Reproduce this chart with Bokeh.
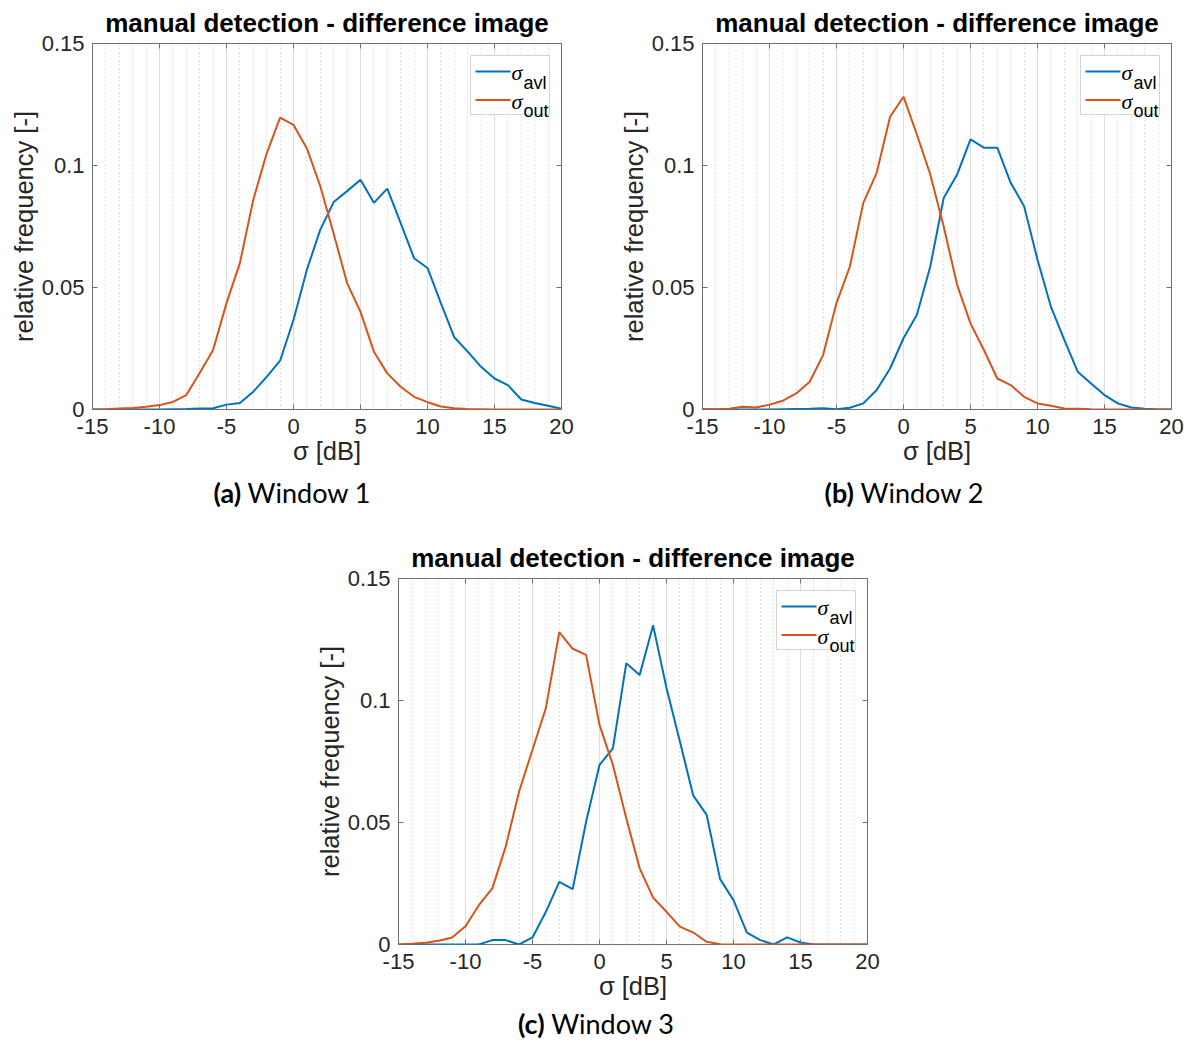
from bokeh.plotting import figure
from bokeh.models import Range1d, FixedTicker, LinearAxis, Label, BoxAnnotation, Div, Spacer
from bokeh.layouts import row, column
from bokeh.embed import file_html
from bokeh.resources import INLINE

# ---------------- data ----------------
x_db = list(range(-15, 21))

avl_w1 = [0, 0, 0, 0, 0, 0, 0.0001, 0.0002, 0.0004, 0.0005, 0.0020, 0.0027, 0.0073, 0.0134, 0.0200,
          0.0367, 0.0573, 0.0737, 0.0850, 0.0895, 0.0942, 0.0847, 0.0905, 0.0764, 0.0620, 0.0580,
          0.0436, 0.0296, 0.0237, 0.0175, 0.0127, 0.0100, 0.0041, 0.0027, 0.0015, 0.0003]
out_w1 = [0, 0.0001, 0.0004, 0.0006, 0.0011, 0.0018, 0.0031, 0.0059, 0.0150, 0.0244, 0.0436, 0.0600,
          0.0860, 0.1050, 0.1196, 0.1166, 0.1070, 0.0915, 0.0720, 0.0518, 0.0400, 0.0237, 0.0148,
          0.0093, 0.0052, 0.0030, 0.0012, 0.0005, 0.0002, 0.0001, 0, 0, 0, 0, 0, 0]

avl_w2 = [0, 0, 0, 0, 0, 0, 0.0001, 0.0002, 0.0003, 0.0005, 0.0001, 0.0007, 0.0025, 0.0080, 0.0168,
          0.0292, 0.0388, 0.0586, 0.0867, 0.0963, 0.1107, 0.1073, 0.1073, 0.0929, 0.0833, 0.0614,
          0.0422, 0.0285, 0.0155, 0.0107, 0.0059, 0.0025, 0.0008, 0.0003, 0, 0]
out_w2 = [0.0002, 0.0001, 0.0003, 0.0011, 0.0008, 0.0020, 0.0036, 0.0066, 0.0114, 0.0223, 0.0436,
          0.0586, 0.0847, 0.0970, 0.1200, 0.1282, 0.1127, 0.0963, 0.0750, 0.0511, 0.0353, 0.0244,
          0.0127, 0.0100, 0.0052, 0.0025, 0.0015, 0.0004, 0.0003, 0.0001, 0, 0, 0, 0, 0, 0]

avl_w3 = [0, 0, 0, 0, 0, 0, 0, 0.0018, 0.0018, 0, 0.0029, 0.0134, 0.0257, 0.0227, 0.0503,
          0.0736, 0.0804, 0.1153, 0.1105, 0.1308, 0.1051, 0.0832, 0.0610, 0.0531, 0.0268, 0.0182,
          0.0049, 0.0018, 0, 0.0029, 0.0008, 0, 0, 0, 0, 0]
out_w3 = [0, 0.0003, 0.0007, 0.0015, 0.0029, 0.0075, 0.0161, 0.0230, 0.0401, 0.0627, 0.0798, 0.0969,
          0.1280, 0.1212, 0.1187, 0.0900, 0.0736, 0.0517, 0.0312, 0.0192, 0.0134, 0.0073, 0.0049,
          0.0011, 0.0001, 0, 0, 0, 0, 0, 0, 0, 0, 0, 0, 0]

x_ticks = [-15, -10, -5, 0, 5, 10, 15, 20]
x_tick_labels = ["-15", "-10", "-5", "0", "5", "10", "15", "20"]
y_ticks = [0, 0.05, 0.1, 0.15]
y_tick_labels = ["0", "0.05", "0.1", "0.15"]
x_minor = list(range(-15, 21))

title_text = "manual detection - difference image"
y_label = "relative frequency [-]"
x_label = "σ [dB]"
series_subs = ["avl", "out"]
caption_tags = ["(a)", "(b)", "(c)"]
caption_texts = ["Window 1", "Window 2", "Window 3"]

# ---------------- style ----------------
BLUE = "#0072BD"
ORANGE = "#D95319"
TXT = "#262626"
FRAME = "#707070"
FONT = "Liberation Sans"
FW, FH = 469, 366


def style_axis(ax, ticks, labels, minor=None, show_labels=True):
    ax.ticker = FixedTicker(ticks=ticks, minor_ticks=minor or [])
    ax.major_tick_in = 5
    ax.major_tick_out = 0
    ax.minor_tick_in = 0
    ax.minor_tick_out = 0
    ax.axis_line_color = None
    ax.major_tick_line_color = FRAME
    ax.major_label_text_font = FONT
    if show_labels:
        ax.major_label_overrides = {t: l for t, l in zip(ticks, labels)}
        ax.major_label_text_color = TXT
        ax.major_label_text_font_size = "22px"
    else:
        # mirror axis: ticks only, labels not drawn
        ax.major_label_text_color = None
        ax.major_label_text_font_size = "1px"
        ax.major_label_standoff = 0


def add_legend(p):
    right = FW - 12
    left = right - 79
    top = FH - 12
    bottom = top - 59
    p.add_layout(BoxAnnotation(left=left, right=right, top=top, bottom=bottom,
                               left_units="screen", right_units="screen",
                               top_units="screen", bottom_units="screen",
                               fill_color="white", fill_alpha=1.0,
                               line_color=FRAME, line_width=1))
    for i, (sub, col) in enumerate(zip(series_subs, [BLUE, ORANGE])):
        yl = FH - (28 + 28.5 * i)
        p.add_layout(BoxAnnotation(left=left + 5, right=left + 40, top=yl + 1, bottom=yl - 1,
                                   left_units="screen", right_units="screen",
                                   top_units="screen", bottom_units="screen",
                                   fill_color=col, fill_alpha=1.0, line_color=None))
        p.add_layout(Label(x=left + 41, y=yl - 1, x_units="screen", y_units="screen",
                           text="σ", text_font="Liberation Serif", text_font_style="italic",
                           text_font_size="22px", text_color="#000000",
                           text_align="left", text_baseline="alphabetic"))
        p.add_layout(Label(x=left + 53, y=yl - 11, x_units="screen", y_units="screen",
                           text=sub, text_font=FONT, text_font_size="18px", text_color="#000000",
                           text_align="left", text_baseline="alphabetic"))


def make_fig(avl, out, left_b, right_b, top_b):
    p = figure(frame_width=FW, frame_height=FH,
               x_range=Range1d(-15, 20), y_range=Range1d(0, 0.15),
               output_backend="svg", toolbar_location=None,
               min_border_left=left_b, min_border_right=right_b,
               min_border_top=top_b, min_border_bottom=64,
               title=title_text)
    p.title.text_font = FONT
    p.title.text_font_size = "26px"
    p.title.text_font_style = "bold"
    p.title.text_color = "#000000"
    p.title.align = "center"
    p.title.standoff = 11
    p.outline_line_color = FRAME
    p.outline_line_width = 1
    p.background_fill_color = "white"
    p.border_fill_color = "white"

    style_axis(p.xaxis[0], x_ticks, x_tick_labels, x_minor)
    style_axis(p.yaxis[0], y_ticks, y_tick_labels)
    p.xaxis[0].major_label_standoff = 9
    p.yaxis[0].major_label_standoff = 8
    p.xaxis[0].axis_label = x_label
    p.yaxis[0].axis_label = y_label
    for ax in (p.xaxis[0], p.yaxis[0]):
        ax.axis_label_text_font = FONT
        ax.axis_label_text_font_size = "25.5px"
        ax.axis_label_text_font_style = "normal"
        ax.axis_label_text_color = TXT
    p.xaxis[0].axis_label_standoff = 0
    p.yaxis[0].axis_label_standoff = 1

    top_ax = LinearAxis()
    style_axis(top_ax, x_ticks, x_tick_labels, show_labels=False)
    p.add_layout(top_ax, "above")
    right_ax = LinearAxis()
    style_axis(right_ax, y_ticks, y_tick_labels, show_labels=False)
    p.add_layout(right_ax, "right")

    p.xgrid[0].ticker = FixedTicker(ticks=x_ticks, minor_ticks=x_minor)
    p.xgrid[0].grid_line_color = "#dedede"
    p.xgrid[0].grid_line_width = 1
    p.xgrid[0].minor_grid_line_color = "#c8c8c8"
    p.xgrid[0].minor_grid_line_dash = "1 3"
    p.ygrid[0].visible = False

    p.line(x_db, avl, line_color=BLUE, line_width=2)
    p.line(x_db, out, line_color=ORANGE, line_width=2)
    add_legend(p)
    return p


f1 = make_fig(avl_w1, out_w1, 83, 40, 35)
f2 = make_fig(avl_w2, out_w2, 101, 16, 35)
f3 = make_fig(avl_w3, out_w3, 83, 40, 63)


def caption(tag, txt, width, height, lh, pad_l, pad_r):
    html = ('<div style="width:%dpx;height:%dpx;box-sizing:border-box;padding-left:%dpx;'
            'padding-right:%dpx;text-align:center;font-family:Lato;font-size:27px;'
            'line-height:%dpx;color:#000;white-space:nowrap;"><b>%s</b> %s</div>'
            % (width, height, pad_l, pad_r, lh, tag, txt))
    return Div(text=html, width=width, height=height, margin=0)


cap_a = caption(caption_tags[0], caption_texts[0], 592, 42, 39, 0, 20)
cap_b = caption(caption_tags[1], caption_texts[1], 587, 42, 39, 25, 0)
cap_c = caption(caption_tags[2], caption_texts[2], 1170, 31, 31, 10, 0)

layout = column(row(f1, f2), row(cap_a, cap_b),
                row(Spacer(width=306, height=10), f3), cap_c,
                margin=(0, 0, 0, 6))

open("out.html", "w").write(file_html(layout, INLINE))
